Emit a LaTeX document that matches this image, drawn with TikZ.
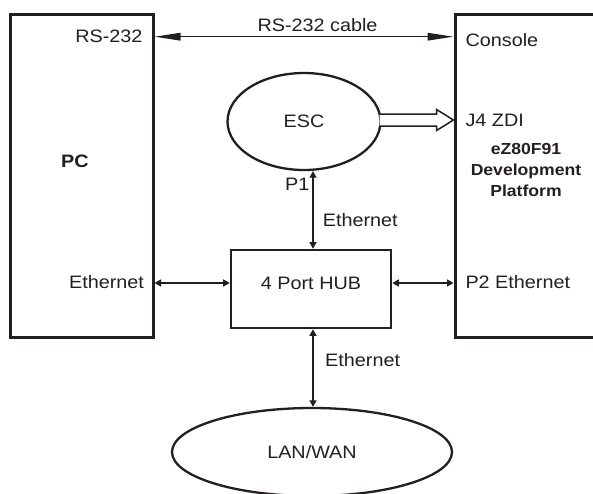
\documentclass[tikz,border=0pt]{standalone}
\usepackage{fontspec}
\setmainfont{Liberation Sans}[FakeStretch=1.1]
\usetikzlibrary{arrows.meta,shapes.geometric,calc}
\definecolor{ink}{RGB}{35,31,32}
\begin{document}
\begin{tikzpicture}[x=1pt,y=-1pt,
  every node/.style={text=ink,font=\fontsize{18}{21}\selectfont},
  boxframe/.style={draw=ink,line width=3pt,rectangle,inner sep=0pt},
  hubframe/.style={draw=ink,line width=2.6pt,rectangle,inner sep=0pt},
  ovalframe/.style={draw=ink,line width=2.3pt,ellipse,inner sep=0pt},
  rsarrow/.style={draw=ink,line width=1.4pt,{Triangle[length=26pt,width=7.5pt]}-{Triangle[length=26pt,width=7.5pt]}},
  etharrow/.style={draw=ink,line width=1.3pt,{Triangle[length=6.5pt,width=7pt]}-{Triangle[length=6.5pt,width=7pt]}},
  hollowarrow/.style={draw=ink,line width=1.5pt,line join=miter,fill=white},
  boldtext/.style={font=\bfseries\fontsize{16}{21}\selectfont,align=center}
]
\useasboundingbox (0,0) rectangle (593,493);
\clip (0,0) rectangle (593,493);
\fill[white] (0,0) rectangle (593,493);

% blocks
\node[boxframe,minimum width=143pt,minimum height=323pt] (pc) at (81.5,175.5) {};
\node[boxframe,minimum width=200pt,minimum height=323pt] (dev) at (555,175.5) {};
\node[hubframe,minimum width=160pt,minimum height=78pt,text height=13pt,text depth=13pt] (hub) at (311,289) {4 Port HUB};
\node[ovalframe,minimum width=153pt,minimum height=97pt] (esc) at (304,121.5) {ESC};
\node[ovalframe,minimum width=280pt,minimum height=88pt] (lan) at (312,452) {LAN/WAN};

% helper rows / columns
\coordinate (rsrow) at (0,36.7);
\coordinate (ethrow) at (0,283);
\coordinate (zdirow) at (0,120);
\coordinate (vcol) at (313,0);

% connectors
\draw[rsarrow] (pc.east |- rsrow) -- (dev.west |- rsrow);
\draw[etharrow] (pc.east |- ethrow) -- (hub.west |- ethrow);
\draw[etharrow] (hub.east |- ethrow) -- (dev.west |- ethrow);
\draw[etharrow] (esc.south -| vcol) -- (hub.north -| vcol);
\draw[etharrow] (hub.south -| vcol) -- (lan.north -| vcol);
\draw[hollowarrow]
  ($(esc.east)+(-2,-7.5)$) -- ($(dev.west |- zdirow)+(-17,-6)$)
  -- ($(dev.west |- zdirow)+(-17,-10.5)$) -- (dev.west |- zdirow)
  -- ($(dev.west |- zdirow)+(-17,10.5)$) -- ($(dev.west |- zdirow)+(-17,6)$)
  -- ($(esc.east)+(-2,4.5)$);

% labels
\node[anchor=base east] (rslabel) at (146,42.7) {RS-232};
\node[anchor=base] (cable) at (317.5,31.7) {RS-232 cable};
\node[anchor=base west] (console) at (462,46.7) {Console};
\node[anchor=base west] (j4) at (462,126.7) {J4 ZDI};
\node[boldtext] (devlabel) at (526,170.1) {eZ80F91\\Development\\Platform};
\node[anchor=base,font=\bfseries\fontsize{18}{21}\selectfont] (pclabel) at (75,167.3) {PC};
\node[anchor=base west] (p1) at (281.7,190) {P1};
\node[anchor=base west] (eth1) at (319.3,226.7) {Ethernet};
\node[anchor=base east] (ethl) at (147.5,288.3) {Ethernet};
\node[anchor=base west] (p2) at (462,288.3) {P2 Ethernet};
\node[anchor=base west] (eth2) at (321.7,366.7) {Ethernet};
\end{tikzpicture}
\end{document}
